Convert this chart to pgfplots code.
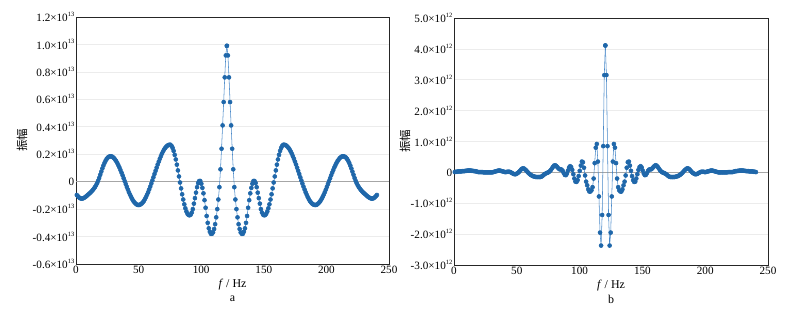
\documentclass[border=0pt]{standalone}
\usepackage{pgfplots}
\pgfplotsset{compat=1.18}
\usepackage{pgfplotstable}
\usepackage{fontspec}
\setmainfont{Liberation Serif}
\newfontfamily\cjk{Noto Sans CJK SC}
\definecolor{ptc}{RGB}{31,103,170}
\definecolor{lnc}{RGB}{70,135,200}
\newcommand{\sci}[2]{#1×10\raisebox{0.45em}{\fontsize{6.5}{7}\selectfont #2}}

% half spectra, u = distance (Hz) from the centre frequency 120.5 Hz
\pgfplotstableread{
u v
0 0.99
0.85 0.92
1.7 0.76
2.55 0.58
3.4 0.41
4.25 0.24
5.1 0.09
5.95 -0.04
6.8 -0.13
7.65 -0.20
8.5 -0.26
9.35 -0.31
10.2 -0.345
11.05 -0.37
11.9 -0.38
12.75 -0.38
13.6 -0.365
14.45 -0.34
15.3 -0.30
16.15 -0.25
17.0 -0.19
17.85 -0.135
18.7 -0.085
19.55 -0.045
20.4 -0.015
21.25 0.005
22.1 0.005
22.95 -0.01
23.8 -0.04
24.65 -0.08
25.5 -0.12
26.35 -0.16
27.2 -0.20
28.05 -0.225
28.9 -0.24
29.75 -0.245
30.6 -0.243
31.45 -0.234
32.3 -0.217
33.15 -0.194
34.0 -0.165
34.85 -0.130
35.7 -0.092
36.55 -0.049
37.4 -0.006
38.25 0.038
39.1 0.082
39.95 0.124
40.8 0.162
41.65 0.195
42.5 0.224
43.35 0.246
44.2 0.261
45.05 0.269
45.9 0.269
46.75 0.267
47.6 0.262
48.45 0.255
49.3 0.245
50.15 0.234
51.0 0.220
51.85 0.204
52.7 0.186
53.55 0.167
54.4 0.146
55.25 0.125
56.1 0.102
56.95 0.079
57.8 0.056
58.65 0.032
59.5 0.009
60.35 -0.014
61.2 -0.036
62.05 -0.057
62.9 -0.077
63.75 -0.095
64.6 -0.112
65.45 -0.127
66.3 -0.141
67.15 -0.151
68.0 -0.159
68.85 -0.165
69.7 -0.169
70.55 -0.170
71.4 -0.169
72.25 -0.165
73.1 -0.158
73.95 -0.150
74.8 -0.139
75.65 -0.126
76.5 -0.111
77.35 -0.095
78.2 -0.077
79.05 -0.058
79.9 -0.038
80.75 -0.017
81.6 0.004
82.45 0.025
83.3 0.046
84.15 0.066
85.0 0.085
85.85 0.104
86.7 0.120
87.55 0.136
88.4 0.150
89.25 0.161
90.1 0.171
90.95 0.178
91.8 0.183
92.65 0.185
93.5 0.184
94.35 0.181
95.2 0.175
96.05 0.165
96.9 0.152
97.75 0.136
98.6 0.117
99.45 0.096
100.3 0.073
101.15 0.050
102.0 0.027
102.85 0.006
103.7 -0.012
104.55 -0.027
105.4 -0.040
106.25 -0.051
107.1 -0.061
107.95 -0.070
108.8 -0.078
109.65 -0.085
110.5 -0.092
111.35 -0.099
112.2 -0.106
113.05 -0.112
113.9 -0.117
114.75 -0.121
115.6 -0.123
116.45 -0.123
117.3 -0.120
118.15 -0.114
119.0 -0.106
119.85 -0.097
}\dataA

\pgfplotstableread{
u v
0 4.11
0.85 3.15
1.7 0.85
2.55 -1.38
3.4 -2.37
4.25 -1.95
5.1 -0.78
5.95 0.35
6.8 0.92
7.65 0.80
8.5 0.30
9.35 -0.20
10.2 -0.48
11.05 -0.58
11.9 -0.62
12.75 -0.62
13.6 -0.55
14.45 -0.42
15.3 -0.30
16.15 -0.10
17.0 0.15
17.85 0.33
18.7 0.35
19.55 0.22
20.4 0.05
21.25 -0.12
22.1 -0.25
22.95 -0.31
23.8 -0.30
24.65 -0.20
25.5 -0.06
26.35 0.08
27.2 0.17
28.05 0.20
28.9 0.16
29.75 0.06
30.6 -0.04
31.45 -0.09
32.3 -0.08
33.15 -0.02
34.0 0.05
34.85 0.09
35.7 0.10
36.55 0.10
37.4 0.13
38.25 0.17
39.1 0.21
39.95 0.23
40.8 0.22
41.65 0.18
42.5 0.13
43.35 0.08
44.2 0.04
45.05 0.01
45.9 -0.01
46.75 -0.02
47.6 -0.04
48.45 -0.06
49.3 -0.09
50.15 -0.12
51.0 -0.14
51.85 -0.15
52.7 -0.15
53.55 -0.15
54.4 -0.15
55.25 -0.15
56.1 -0.14
56.95 -0.13
57.8 -0.12
58.65 -0.10
59.5 -0.08
60.35 -0.05
61.2 -0.02
62.05 0.02
62.9 0.06
63.75 0.09
64.6 0.12
65.45 0.13
66.3 0.12
67.15 0.09
68.0 0.05
68.85 0.01
69.7 -0.02
70.55 -0.04
71.4 -0.06
72.25 -0.06
73.1 -0.05
73.95 -0.03
74.8 -0.01
75.65 0.01
76.5 0.02
77.35 0.02
78.2 0.02
79.05 0.01
79.9 0.01
80.75 0.02
81.6 0.03
82.45 0.04
83.3 0.05
84.15 0.06
85.0 0.06
85.85 0.05
86.7 0.04
87.55 0.03
88.4 0.02
89.25 0.01
90.1 0.0
90.95 0.0
91.8 0.0
92.65 0.0
93.5 0.0
94.35 0.0
95.2 0.0
96.05 0.0
96.9 0.0
97.75 0.01
98.6 0.01
99.45 0.01
100.3 0.01
101.15 0.01
102.0 0.02
102.85 0.03
103.7 0.04
104.55 0.04
105.4 0.05
106.25 0.05
107.1 0.06
107.95 0.06
108.8 0.06
109.65 0.06
110.5 0.05
111.35 0.05
112.2 0.04
113.05 0.04
113.9 0.04
114.75 0.03
115.6 0.03
116.45 0.03
117.3 0.03
118.15 0.02
119.0 0.02
119.85 0.01
}\dataB

\begin{document}
\begin{tikzpicture}[x=1bp,y=1bp]
\useasboundingbox (0,0) rectangle (787,308);
\pgfplotsset{
  myaxis/.style={
    scale only axis,
    xmin=0, xmax=250,
    xtick={0,50,100,150,200,250},
    xticklabels={0,50,100,150,200,250},
    major tick length=0pt,
    ymajorgrids,
    grid style={gray!15, line width=0.6bp},
    axis line style={black!85, line width=0.6bp},
    tick label style={font=\fontsize{11.2}{12}\selectfont},
    yticklabel style={inner sep=1.5bp},
    xticklabel style={inner sep=2bp},
    extra y ticks={0},
    extra y tick labels={},
    extra y tick style={grid style={gray!70, line width=1.1bp}},
    clip=false,
  },
  myplot/.style={color=lnc, line width=0.55bp, mark=*, mark size=2bp,
    mark options={fill=ptc, draw=ptc}},
}
\begin{axis}[myaxis,
  at={(76bp,44bp)}, anchor=south west,
  width=313bp, height=247bp,
  ymin=-0.6, ymax=1.2,
  ytick={-0.6,-0.4,-0.2,0,0.2,0.4,0.6,0.8,1.0,1.2},
  yticklabels={\sci{-0.6}{13},\sci{-0.4}{13},\sci{-0.2}{13},0,\sci{0.2}{13},\sci{0.4}{13},\sci{0.6}{13},\sci{0.8}{13},\sci{1.0}{13},\sci{1.2}{13}},
]
\addplot[myplot] table[x expr=120.5-\thisrow{u}, y=v] {\dataA};
\addplot[myplot] table[x expr=120.5+\thisrow{u}, y=v] {\dataA};
\node[rotate=90, font=\cjk\fontsize{11.5}{12}\selectfont] at ([xshift=-54bp]rel axis cs:0,0.5) {振幅};
\node[font=\fontsize{12}{13}\selectfont] at ([yshift=-21bp]rel axis cs:0.5,0) {\textit{f} / Hz};
\node[font=\fontsize{12}{13}\selectfont] at ([yshift=-35bp]rel axis cs:0.5,0) {a};
\end{axis}
\begin{axis}[myaxis,
  at={(454bp,43bp)}, anchor=south west,
  width=314bp, height=247bp,
  ymin=-3, ymax=5,
  ytick={-3,-2,-1,0,1,2,3,4,5},
  yticklabels={\sci{-3.0}{12},\sci{-2.0}{12},\sci{-1.0}{12},0,\sci{1.0}{12},\sci{2.0}{12},\sci{3.0}{12},\sci{4.0}{12},\sci{5.0}{12}},
]
\addplot[myplot] table[x expr=120.5-\thisrow{u}, y=v] {\dataB};
\addplot[myplot] table[x expr=120.5+\thisrow{u}, y=v] {\dataB};
\node[rotate=90, font=\cjk\fontsize{11.5}{12}\selectfont] at ([xshift=-49bp]rel axis cs:0,0.5) {振幅};
\node[font=\fontsize{12}{13}\selectfont] at ([yshift=-21bp]rel axis cs:0.5,0) {\textit{f} / Hz};
\node[font=\fontsize{12}{13}\selectfont] at ([yshift=-34bp]rel axis cs:0.5,0) {b};
\end{axis}
\end{tikzpicture}
\end{document}
